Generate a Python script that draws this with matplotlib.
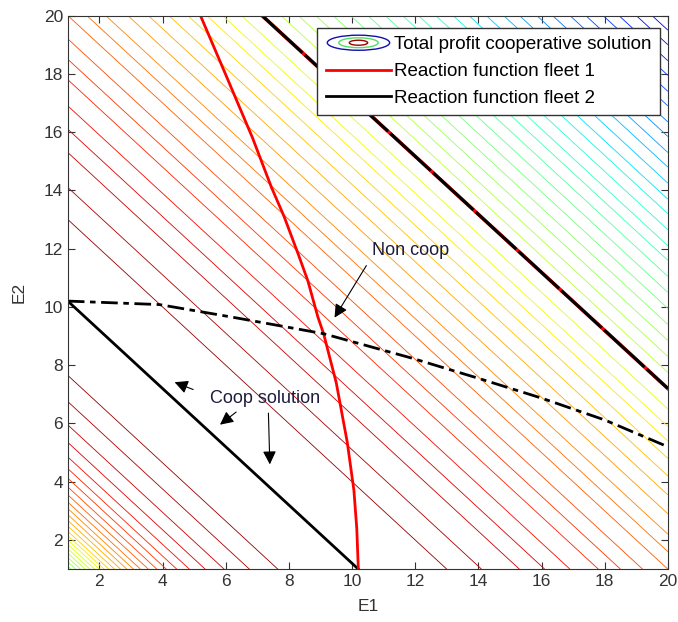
import numpy as np
import matplotlib
matplotlib.use("Agg")
import matplotlib.pyplot as plt
from matplotlib.legend_handler import HandlerBase
from matplotlib.patches import Ellipse
from matplotlib.lines import Line2D

plt.rcParams['font.family'] = ['Liberation Sans', 'DejaVu Sans']

# iso-profit contours, located by E1+E2 (lines of slope -1)
left_levels = [2.1, 2.25, 2.4, 2.55, 2.7, 2.85, 3.0, 3.15, 3.3, 3.48, 3.67, 3.87,
               4.08, 4.3, 4.55, 4.82, 5.12, 5.45, 5.85, 6.35, 6.95, 7.75, 8.65]
right_levels = [14.0, 15.1, 16.3, 17.1, 17.9, 18.8, 19.5, 20.2, 21.0, 21.6, 22.2,
                22.9, 23.55, 24.2, 24.8, 25.4, 25.9, 26.5, 27.2, 27.75, 28.3, 28.85,
                29.4, 29.95, 30.5, 31.05, 31.6, 32.1, 32.65, 33.2, 33.7, 34.25, 34.8,
                35.3, 35.85, 36.35, 36.9, 37.4, 37.95, 38.45, 39.0, 39.5]

# reaction function fleet 1 (E1 given E2)
rf1_e2 = [20.0, 18.1, 15.8, 14.1, 13.1, 11.8, 10.9, 9.65, 9.08, 7.4, 5.35, 3.7, 2.4, 1.0]
rf1_e1 = [5.2, 5.95, 6.85, 7.45, 7.85, 8.3, 8.6, 8.92, 9.1, 9.5, 9.85, 10.06, 10.15, 10.2]

# reaction function fleet 2 (E2 given E1)
rf2_e1 = [1.0, 3.9, 6.2, 9.1, 9.6, 11.9, 14.0, 16.0, 18.0, 20.0]
rf2_e2 = [10.2, 10.08, 9.65, 9.08, 8.93, 8.24, 7.55, 6.87, 6.12, 5.2]

# cooperative solution line and the upper boundary line
coop_e1 = [1.0, 10.2]
coop_e2 = [10.2, 1.0]
bound_e1 = [7.15, 20.0]
bound_e2 = [20.0, 7.2]


class ContourKey:
    pass


class ContourKeyHandler(HandlerBase):
    def create_artists(self, legend, orig_handle, xdescent, ydescent,
                       width, height, fontsize, trans):
        cx = width / 2 - xdescent
        cy = height / 2 - ydescent
        arts = []
        for w, h, c in [(width * 0.95, height * 1.15, '#1010b0'),
                        (width * 0.6, height * 0.75, '#50e060'),
                        (width * 0.28, height * 0.38, '#a00000')]:
            arts.append(Ellipse((cx, cy), w, h, fill=False, edgecolor=c,
                                lw=1.0, transform=trans))
        return arts


fig = plt.figure(figsize=(6.78, 6.22), dpi=100)
ax = fig.add_axes([0.100, 0.085, 0.885, 0.890])

g = np.linspace(1, 20, 300)
E1, E2 = np.meshgrid(g, g)
Z = E1 + E2

top, step = 1.0, 0.021
levels = left_levels + right_levels
vals = [top - step * (len(left_levels) - i) for i in range(len(left_levels))]
vals += [top - step * (i + 1) for i in range(len(right_levels))]
cols = [plt.cm.jet(v) for v in vals]
ax.contour(E1, E2, Z, levels=levels, colors=cols, linewidths=0.6)

ax.plot(coop_e1, coop_e2, color='black', lw=2)
ax.plot(rf1_e1, rf1_e2, color='red', lw=2)
ax.plot(rf2_e1, rf2_e2, color='black', lw=2, linestyle=(0, (6, 2, 2, 2)))
ax.plot(bound_e1, bound_e2, color='red', lw=2.6)
ax.plot(bound_e1, bound_e2, color='black', lw=2.2, linestyle=(0, (18, 1)))

txtcol = '#1c1c3c'
fs = 13
arrow = dict(arrowstyle='-|>', color='black', lw=0.8, mutation_scale=20)
ax.text(10.63, 11.95, 'Non coop', fontsize=fs, color=txtcol, va='center')
ax.annotate('', xy=(9.4, 9.55), xytext=(10.5, 11.5), arrowprops=arrow)
ax.text(5.5, 6.85, 'Coop solution', fontsize=fs, color=txtcol, va='center')
ax.annotate('', xy=(4.3, 7.45), xytext=(5.05, 7.13), arrowprops=arrow)
ax.annotate('', xy=(5.75, 5.9), xytext=(6.4, 6.45), arrowprops=arrow)
ax.annotate('', xy=(7.4, 4.5), xytext=(7.35, 6.45), arrowprops=arrow)

ax.set_xlim(1, 20)
ax.set_ylim(1, 20)
ax.set_xticks(np.arange(2, 21, 2))
ax.set_yticks(np.arange(2, 21, 2))
ax.tick_params(direction='in', top=True, right=True, labelsize=12.5,
               colors='#333333', length=5)
for s in ax.spines.values():
    s.set_color('#333333')
ax.set_xlabel('E1', fontsize=12.5, color='#333333', labelpad=7)
ax.set_ylabel('E2', fontsize=12.5, color='#333333', labelpad=12)

handles = [ContourKey(),
           Line2D([], [], color='red', lw=2),
           Line2D([], [], color='black', lw=2)]
labels = ['Total profit cooperative solution', 'Reaction function fleet 1',
          'Reaction function fleet 2']
leg = ax.legend(handles, labels, handler_map={ContourKey: ContourKeyHandler()},
                loc='upper right', bbox_to_anchor=(0.987, 0.978), fontsize=13.5,
                fancybox=False, edgecolor='#333333', framealpha=1,
                handlelength=3.5, handletextpad=0.15, borderpad=0.45,
                labelspacing=0.52, borderaxespad=0)
leg.get_frame().set_linewidth(1.0)

fig.savefig('out.png', dpi=100)
